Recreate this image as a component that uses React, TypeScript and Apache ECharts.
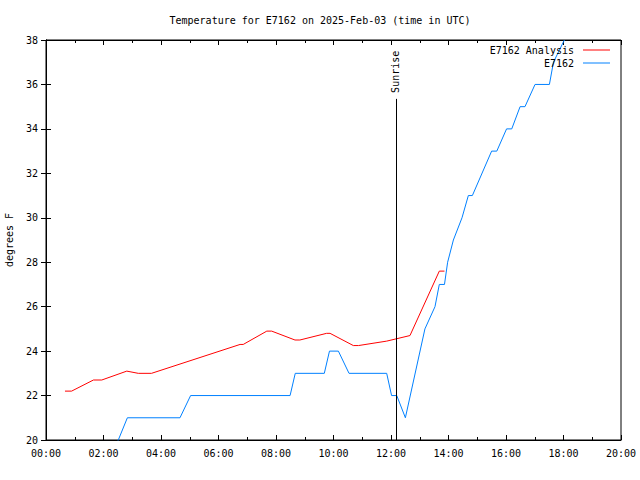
import React, { useEffect, useRef } from "react";
import * as echarts from "echarts";

const FONT = "DejaVu Sans Mono";

const titleText = "Temperature for E7162 on 2025-Feb-03 (time in UTC)";
const yAxisName = "degrees F";
const analysisName = "E7162 Analysis";
const stationName = "E7162";

// hours after 00:00 UTC
const analysisHours = [0.66, 0.89, 1.65, 1.94, 2.81, 3.21, 3.67, 6.75, 6.86, 7.68, 7.85, 8.66, 8.83, 9.76, 9.88, 10.69, 10.87, 11.85, 12.66, 13.68, 13.86];
const analysisTemps = [22.2, 22.2, 22.7, 22.7, 23.1, 23.0, 23.0, 24.3, 24.3, 24.9, 24.9, 24.5, 24.5, 24.8, 24.8, 24.25, 24.25, 24.45, 24.7, 27.6, 27.6];

const stationHours = [2.2, 2.83, 4.66, 5.03, 8.49, 8.67, 9.68, 9.86, 10.17, 10.54, 11.85, 12.02, 12.2, 12.5, 13.18, 13.53, 13.68, 13.86, 13.97, 14.17, 14.47, 14.69, 14.83, 15.5, 15.68, 16.02, 16.2, 16.49, 16.66, 17.01, 17.51, 17.65, 18.03];
const stationTemps = [19, 21, 21, 22, 22, 23, 23, 24, 24, 23, 23, 22, 22, 21, 25, 26, 27, 27, 28, 29, 30, 31, 31, 33, 33, 34, 34, 35, 35, 36, 36, 37, 38];

const sunriseHour = 12.17;
const sunriseLineTop = 35.35;
const sunriseLabelBase = 35.62;

const xMin = 0;
const xMax = 20;
const xInterval = 2;
const yMin = 20;
const yMax = 38;
const yInterval = 2;

const RED = "#ff0000";
const BLUE = "#0080ff";

function fmtHour(v: number) {
  const h = Math.round(v);
  return (h < 10 ? "0" : "") + h + ":00";
}

export default function App() {
  const ref = useRef<HTMLDivElement>(null);
  useEffect(() => {
    if (!ref.current) return;
    const chart = echarts.init(ref.current, undefined, { renderer: "svg" });
    const txt = { fontFamily: FONT, fontSize: 10, color: "#000" };
    const tickCommon = {
      axisLine: { show: true, lineStyle: { color: "#000", width: 1 } },
      splitLine: { show: false },
    };
    const legendCommon = {
      right: 30,
      align: "right",
      icon: "rect",
      itemWidth: 27,
      itemHeight: 1,
      textStyle: { ...txt, padding: [0, 4, 0, 0] },
      padding: 0,
    };
    chart.setOption({
      animation: false,
      backgroundColor: "#fff",
      title: {
        text: titleText,
        left: "center",
        top: 10,
        textStyle: { ...txt, fontWeight: "normal" },
      },
      legend: [
        { ...legendCommon, data: [analysisName], top: 45 },
        { ...legendCommon, data: [stationName], top: 58 },
      ],
      grid: {
        left: 46,
        right: 19,
        top: 40,
        bottom: 40,
        show: true,
        borderColor: "#000",
        borderWidth: 1,
        backgroundColor: "transparent",
        outerBoundsMode: "none",
        containLabel: false,
      },
      xAxis: [
        {
          type: "value",
          min: xMin,
          max: xMax,
          interval: xInterval,
          ...tickCommon,
          axisTick: { show: true, inside: true, length: 5, lineStyle: { color: "#000" } },
          minorTick: { show: true, splitNumber: 2, length: 3, lineStyle: { color: "#000" } },
          axisLabel: { ...txt, margin: 8, formatter: fmtHour },
        },
        {
          type: "value",
          position: "top",
          min: xMin,
          max: xMax,
          interval: xInterval,
          ...tickCommon,
          axisTick: { show: true, inside: true, length: 5, lineStyle: { color: "#000" } },
          minorTick: { show: true, splitNumber: 2, length: 3, lineStyle: { color: "#000" } },
          axisLabel: { show: false },
        },
      ],
      yAxis: [
        {
          type: "value",
          min: yMin,
          max: yMax,
          interval: yInterval,
          ...tickCommon,
          name: yAxisName,
          nameLocation: "middle",
          nameRotate: 90,
          nameGap: 32,
          nameTextStyle: txt,
          axisTick: { show: true, inside: true, length: 5, lineStyle: { color: "#000" } },
          axisLabel: { ...txt, margin: 8 },
        },
        {
          type: "value",
          position: "right",
          min: yMin,
          max: yMax,
          interval: yInterval,
          ...tickCommon,
          axisTick: { show: true, inside: true, length: 5, lineStyle: { color: "#000" } },
          axisLabel: { show: false },
        },
      ],
      series: [
        {
          name: analysisName,
          type: "line",
          data: analysisHours.map((h, i) => [h, analysisTemps[i]]),
          showSymbol: false,
          symbol: "none",
          lineStyle: { color: RED, width: 1 },
          itemStyle: { color: RED },
          clip: true,
        },
        {
          name: stationName,
          type: "line",
          data: stationHours.map((h, i) => [h, stationTemps[i]]),
          showSymbol: false,
          symbol: "none",
          lineStyle: { color: BLUE, width: 1 },
          itemStyle: { color: BLUE },
          clip: true,
          markLine: {
            silent: true,
            symbol: "none",
            lineStyle: { color: "#000", width: 1, type: "solid" },
            label: { show: false },
            data: [[{ coord: [sunriseHour, yMin] }, { coord: [sunriseHour, sunriseLineTop] }]],
          },
          markPoint: {
            silent: true,
            symbol: "circle",
            symbolSize: 0,
            data: [{ coord: [sunriseHour, sunriseLabelBase] }],
            label: {
              show: true,
              formatter: "Sunrise",
              position: "inside",
              rotate: 90,
              align: "left",
              verticalAlign: "middle",
              ...txt,
            },
          },
        },
      ],
    });
    return () => chart.dispose();
  }, []);
  return <div ref={ref} style={{ width: 640, height: 480, position: "absolute", left: 0, top: 0 }} />;
}
